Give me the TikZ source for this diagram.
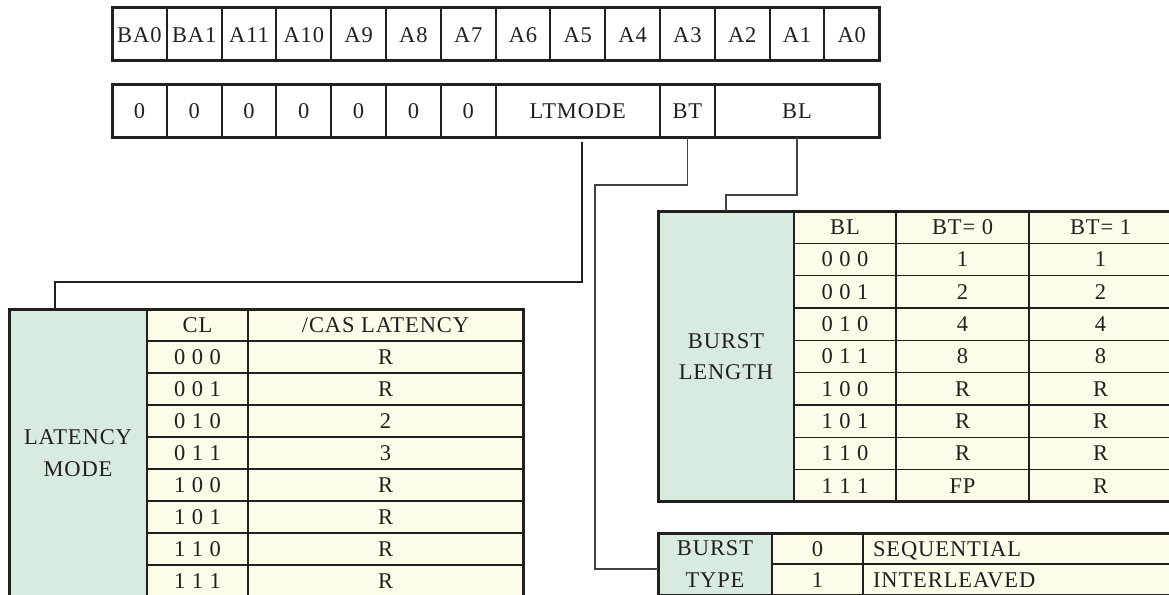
\documentclass[tikz,border=0pt]{standalone}
\usepackage{fontspec}
\setmainfont{Liberation Serif}[LetterSpace=4]
\usetikzlibrary{calc}

\definecolor{linegray}{HTML}{231F20}
\definecolor{modegreen}{HTML}{D7ECDF}
\definecolor{cellcream}{HTML}{FEFCE9}

\begin{document}
\begin{tikzpicture}[x=1pt, y=-1pt,
    font=\fontsize{22.5}{31.5}\selectfont, text=linegray,
    regcell/.style={draw=linegray, line width=2pt, inner sep=0pt, outer sep=0pt,
        minimum width=54.8pt, minimum height=53pt, text height=15pt, text depth=0pt},
    tabcell/.style={draw=linegray, line width=1.6pt, fill=cellcream, inner sep=0pt,
        outer sep=0pt, anchor=north west, minimum height=32pt, text height=15pt, text depth=0pt},
    greencell/.style={draw=linegray, line width=1.6pt, fill=modegreen, inner sep=0pt,
        outer sep=0pt, anchor=north west, align=center},
    tabframe/.style={draw=linegray, line width=3pt},
    ltlink/.style={draw=linegray, line width=2pt},
    thinlink/.style={draw=linegray!85, line width=1.3pt}]
    \useasboundingbox (0,0) rectangle (1169,594);
    \clip (0,0) rectangle (1169,594);

    % address bits
    \foreach \lab [count=\i from 0] in {BA0,BA1,A11,A10,A9,A8,A7,A6,A5,A4,A3,A2,A1,A0}
        \node[regcell] (addr\i) at ({139.4+54.8*\i},34.5) {\lab};
    \draw[tabframe] (addr0.north west) rectangle (addr13.south east);

    % mode register fields
    \foreach \i in {0,...,6}
        \node[regcell] (mr\i) at ({139.4+54.8*\i},110.5) {0};
    \node[regcell, minimum width=164.4pt] (ltmode) at ({112+54.8*8.5},110.5) {LTMODE};
    \node[regcell] (bt) at ({112+54.8*10.5},110.5) {BT};
    \node[regcell, minimum width=164.4pt] (bl) at ({112+54.8*12.5},110.5) {BL};
    \draw[tabframe] (mr0.north west) rectangle (bl.south east);

    % latency mode table
    \node[greencell, minimum width=138pt, minimum height=288pt] (lmode) at (9,309) {LATENCY\\MODE};
    \node[tabcell, minimum width=101pt] (cl0) at (147,309) {CL};
    \node[tabcell, minimum width=275pt] (cas0) at (248,309) {/CAS LATENCY};
    \foreach \c/\v [count=\r] in {0 0 0/R,0 0 1/R,0 1 0/2,0 1 1/3,1 0 0/R,1 0 1/R,1 1 0/R,1 1 1/R} {
        \node[tabcell, minimum width=101pt] (cl\r) at (147,{309+32*\r}) {\c};
        \node[tabcell, minimum width=275pt] (cas\r) at (248,{309+32*\r}) {\v};
    }
    \draw[tabframe] (lmode.north west) rectangle (cas8.south east);

    % burst length table
    \node[greencell, minimum width=136pt, minimum height=291pt] (bmode) at (658,211) {BURST\\LENGTH};
    \node[tabcell, minimum width=102pt, minimum height=32.33pt] (bl0) at (794,211) {BL};
    \node[tabcell, minimum width=133pt, minimum height=32.33pt] (bta0) at (896,211) {BT= 0};
    \node[tabcell, minimum width=143pt, minimum height=32.33pt] (btb0) at (1029,211) {BT= 1};
    \foreach \c/\u/\v [count=\r] in {0 0 0/1/1,0 0 1/2/2,0 1 0/4/4,0 1 1/8/8,1 0 0/R/R,1 0 1/R/R,1 1 0/R/R,1 1 1/FP/R} {
        \node[tabcell, minimum width=102pt, minimum height=32.33pt] (bl\r) at (794,{211+32.33*\r}) {\c};
        \node[tabcell, minimum width=133pt, minimum height=32.33pt] (bta\r) at (896,{211+32.33*\r}) {\u};
        \node[tabcell, minimum width=143pt, minimum height=32.33pt] (btb\r) at (1029,{211+32.33*\r}) {\v};
    }
    \draw[tabframe] (bmode.north west) rectangle (btb8.south east);

    % burst type table
    \node[greencell, minimum width=114pt, minimum height=62pt] (tmode) at (658,533) {BURST\\TYPE};
    \node[tabcell, minimum width=91pt, minimum height=31pt] (tv1) at (772,533) {0};
    \node[tabcell, minimum width=309pt, minimum height=31pt, text width=289pt, align=left] (td1) at (863,533) {SEQUENTIAL};
    \node[tabcell, minimum width=91pt, minimum height=31pt] (tv2) at (772,564) {1};
    \node[tabcell, minimum width=309pt, minimum height=31pt, text width=289pt, align=left] (td2) at (863,564) {INTERLEAVED};
    \draw[tabframe] (tmode.north west) rectangle (td2.south east);

    % links from the fields to the tables
    \coordinate (ltbend) at (55,282);
    \draw[ltlink] ($(ltmode.south)+(4,5)$) |- (ltbend) -- (ltbend |- lmode.north);
    \coordinate (btbend) at (595,185);
    \draw[thinlink] (bt.south) |- (btbend) |- ($(tmode.west)+(0,5)$);
    \draw[thinlink] (bl.south) |- (bmode.north |- 0,195) -- (bmode.north);
\end{tikzpicture}
\end{document}
